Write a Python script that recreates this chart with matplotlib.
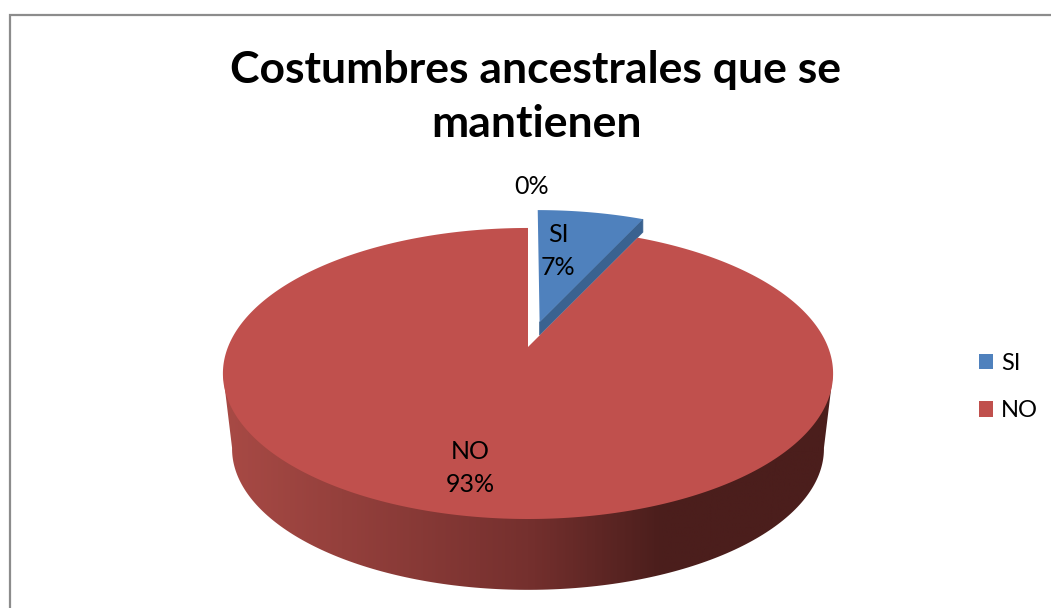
import numpy as np
import matplotlib
matplotlib.use('Agg')
import matplotlib.pyplot as plt
from matplotlib.colors import LinearSegmentedColormap
from matplotlib.patches import Patch, Polygon

categories = ['SI', 'NO', '']
values = [7, 93, 0]
title = 'Costumbres ancestrales que se\nmantienen'

plt.rcParams['font.family'] = ['Lato', 'DejaVu Sans']

# pixel style axes, the pie is projected by hand to get the tilted look
fig = plt.figure(figsize=(10.51, 6.08), dpi=100)
ax = fig.add_axes([0, 0, 1, 1])

cx, cy = 528, 347
A, B, c = 300, 140.7, 0.182


def project(X, Y, s=1.0, down=0.0):
    d = 1 + c * Y
    return cx + s * A * X / d, cy - s * B * Y / d + down


def rim(t1, t2, ox=0.0, oy=0.0, s=1.0, down=0.0):
    th = np.radians(np.linspace(t1, t2, 400))
    return project(np.sin(th) + ox, np.cos(th) + oy, s, down)


angles = np.cumsum([0] + values) / sum(values) * 360

# blue slice is pulled out, its wall only shows along the cut edge
ox, oy = 0.04, 0.183
ax_, ay_ = project(ox, oy)
rx, ry = rim(angles[0], angles[1], ox, oy, s=0.985)
ry = ry - 2
wall = [(ax_, ay_), (rx[-1], ry[-1]), (rx[-1], ry[-1] + 13), (ax_, ay_ + 13)]
ax.add_patch(Polygon(wall, fc='#3A6290', ec='#3A6290', lw=0.5))
ax.fill(np.r_[ax_, rx], np.r_[ay_, ry], fc='#4F81BD', ec='none')

# red wall
s_low, d_low = 0.97, 76
lx, ly = rim(0, 360, s=s_low, down=d_low)
ux, uy = rim(0, 360)
i1, i2 = np.argmax(lx), np.argmin(lx)
wall_x = np.r_[ux[np.argmax(ux)], lx[i1:i2 + 1], ux[np.argmin(ux)]]
wall_y = np.r_[uy[np.argmax(ux)], ly[i1:i2 + 1], uy[np.argmin(ux)]]
clip = Polygon(np.c_[wall_x, wall_y], closed=True, transform=ax.transData, fc='none', ec='none')
ax.add_patch(clip)
shade = LinearSegmentedColormap.from_list('wall', [(0, '#A84A45'), (0.5, '#75302E'), (0.72, '#4B1E1C'), (1, '#4B1E1C')])
grad = ax.imshow(np.linspace(0, 1, 600)[None, :], extent=(223, 833, 600, 300), cmap=shade, aspect='auto', zorder=1)
grad.set_clip_path(clip)

# red face
rx, ry = rim(angles[1], angles[2])
ax.fill(np.r_[cx, rx], np.r_[cy, ry], fc='#C0504D', ec='none', zorder=2)

# data labels
ax.text(532, 187, '%d%%' % values[2], ha='center', va='center', fontsize=18, zorder=3)
ax.text(558, 251, '%s\n%d%%' % (categories[0], values[0]), ha='center', va='center', fontsize=18, linespacing=1.5, zorder=3)
ax.text(470, 468, '%s\n%d%%' % (categories[1], values[1]), ha='center', va='center', fontsize=18, linespacing=1.5, zorder=3)

ax.text(536, 97, title, ha='center', va='center', fontsize=32, fontweight='bold', linespacing=1.44)

# chart frame, cut by the image on right and bottom
ax.plot([10, 10, 1051], [608, 14.5, 14.5], color='#8C8C8C', lw=1.6, solid_joinstyle='miter')

handles = [Patch(fc='#4F81BD', ec='none'), Patch(fc='#C0504D', ec='none')]
ax.legend(handles, categories[:2], loc='center left', bbox_to_anchor=(979 / 1051, 1 - 387 / 608), frameon=False,
          fontsize=17, handlelength=0.61, handleheight=0.63, handletextpad=0.32, labelspacing=1.12, borderpad=0, borderaxespad=0)

ax.set_xlim(0, 1051)
ax.set_ylim(608, 0)
ax.axis('off')
fig.savefig('out.png', dpi=100, facecolor='white')
